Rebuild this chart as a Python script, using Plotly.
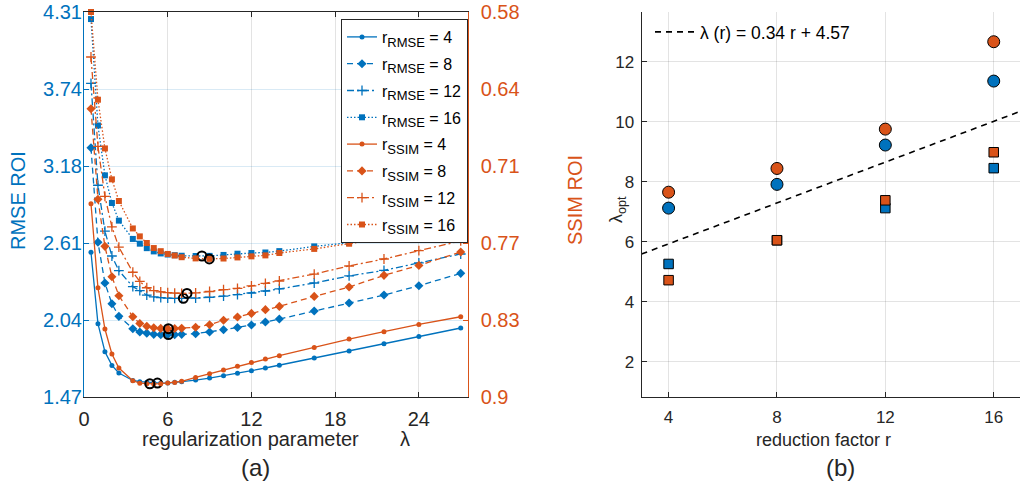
import plotly.graph_objects as go

# ---------------- data: panel (a) ----------------
lam = [0.5, 1, 1.5, 2, 2.5, 3.5, 4, 4.5, 5, 5.5, 6, 6.5, 7, 8, 9, 10, 11, 12, 13, 14, 16.5, 19, 21.5, 24, 27]

rmse_r4 = [2.538, 2.011, 1.804, 1.703, 1.647, 1.592, 1.583, 1.578, 1.575, 1.573, 1.573, 1.578, 1.583,
           1.595, 1.610, 1.627, 1.646, 1.664, 1.684, 1.705, 1.758, 1.809, 1.863, 1.917, 1.979]
rmse_r8 = [3.309, 2.612, 2.311, 2.158, 2.065, 1.974, 1.950, 1.941, 1.932, 1.930, 1.930, 1.930, 1.932,
           1.937, 1.950, 1.966, 1.983, 2.001, 2.023, 2.045, 2.104, 2.163, 2.222, 2.291, 2.382]
rmse_r12 = [3.783, 3.032, 2.693, 2.510, 2.402, 2.284, 2.254, 2.221, 2.208, 2.203, 2.199, 2.197, 2.197,
            2.200, 2.206, 2.214, 2.225, 2.237, 2.252, 2.267, 2.311, 2.363, 2.404, 2.459, 2.525]
rmse_r16 = [4.258, 3.473, 3.105, 2.901, 2.771, 2.636, 2.601, 2.568, 2.544, 2.529, 2.521, 2.516, 2.512,
            2.510, 2.511, 2.518, 2.527, 2.532, 2.536, 2.546, 2.581, 2.608, 2.647, 2.684, 2.728]

ssim_r4 = [0.7393, 0.8092, 0.8435, 0.8642, 0.8759, 0.8865, 0.8885, 0.8889, 0.8891, 0.8889, 0.8884, 0.8879, 0.8870,
           0.8837, 0.8806, 0.8775, 0.8744, 0.8713, 0.8684, 0.8657, 0.8588, 0.8518, 0.8457, 0.8397, 0.8333]
ssim_r8 = [0.6604, 0.7356, 0.7748, 0.8000, 0.8158, 0.8333, 0.8389, 0.8412, 0.8424, 0.8430, 0.8432, 0.8431, 0.8428,
           0.8420, 0.8399, 0.8362, 0.8335, 0.8305, 0.8274, 0.8247, 0.8164, 0.8086, 0.7989, 0.7906, 0.7795]
ssim_r12 = [0.6174, 0.6917, 0.7333, 0.7586, 0.7755, 0.7963, 0.8039, 0.8092, 0.8116, 0.8127, 0.8133, 0.8136, 0.8139,
            0.8135, 0.8123, 0.8108, 0.8097, 0.8077, 0.8056, 0.8036, 0.7978, 0.7911, 0.7853, 0.7784, 0.7703]
ssim_r16 = [0.5800, 0.6529, 0.6934, 0.7191, 0.7371, 0.7599, 0.7665, 0.7720, 0.7762, 0.7788, 0.7811, 0.7824, 0.7838,
            0.7848, 0.7852, 0.7849, 0.7840, 0.7831, 0.7823, 0.7803, 0.7769, 0.7726, 0.7684, 0.7626, 0.7570]

# optimal lambdas (black circles in (a), squares in (b))
lam_opt_rmse = [5.26, 6.05, 7.12, 8.45]
rmse_at_opt = [1.573, 1.931, 2.198, 2.510]
lam_opt_ssim = [4.72, 6.05, 7.38, 8.98]
ssim_at_opt = [0.8890, 0.8432, 0.8139, 0.7852]

rmse_ticks = [1.47, 2.038, 2.606, 3.174, 3.742, 4.31]
rmse_ticktext = ["1.47", "2.04", "2.61", "3.18", "3.74", "4.31"]
ssim_ticks = [0.9, 0.836, 0.772, 0.708, 0.644, 0.58]
ssim_ticktext = ["0.9", "0.83", "0.77", "0.71", "0.64", "0.58"]
lam_ticks = [0, 6, 12, 18, 24]

# ---------------- data: panel (b) ----------------
r_vals = [4, 8, 12, 16]
lam_circ_rmse = [7.12, 7.91, 9.22, 11.35]
lam_circ_ssim = [7.65, 8.44, 9.75, 12.66]
fit_slope = 0.34
fit_intercept = 4.57
fit_r = [3, 18]
r_ticks = [4, 8, 12, 16]
lopt_ticks = [2, 4, 6, 8, 10, 12]

# ---------------- styling ----------------
BLUE = "#0072BD"
ORANGE = "#D95319"
DARK = "#262626"
FONT = "Liberation Sans, Arial, sans-serif"

W, H = 1020, 493
ML, MR, MT, MB = 84, 0, 12, 96
PW, PH = W - ML - MR, H - MT - MB


def px(p):
    return (p - ML) / PW


def py(p):
    return 1 - (p - MT) / PH


fig = go.Figure()

dash_styles = {
    4: None,
    8: "6px,4px",
    12: "7px,3px,2px,3px",
    16: "1.5px,2px",
}
markers = {
    4: dict(symbol="circle", size=5),
    8: dict(symbol="diamond", size=7),
    12: dict(symbol="cross-thin", size=7),
    16: dict(symbol="square", size=6),
}


def add_series(x, y, r, color, metric, yaxis):
    m = dict(markers[r])
    m["color"] = color
    if m["symbol"] == "cross-thin":
        m["line"] = dict(width=1.3, color=color)
    else:
        m["line"] = dict(width=0)
    line = dict(color=color, width=1.3)
    if dash_styles[r]:
        line["dash"] = dash_styles[r]
    name = "r<sub><span style='font-size:13px'>%s</span></sub> = %d" % (metric, r)
    fig.add_trace(go.Scatter(x=x, y=y, mode="lines+markers", line=line, marker=m,
                             name=name, xaxis="x", yaxis=yaxis, cliponaxis=False,
                             legend="legend", legendgroup=metric + str(r)))


for r, ys in zip([4, 8, 12, 16], [rmse_r4, rmse_r8, rmse_r12, rmse_r16]):
    add_series(lam, ys, r, BLUE, "RMSE", "y")
fig.add_trace(go.Scatter(x=lam_opt_rmse, y=rmse_at_opt, mode="markers",
                         marker=dict(symbol="circle-open", size=9, color="black", line=dict(width=2)),
                         xaxis="x", yaxis="y", showlegend=False))
for r, ys in zip([4, 8, 12, 16], [ssim_r4, ssim_r8, ssim_r12, ssim_r16]):
    add_series(lam, ys, r, ORANGE, "SSIM", "y2")
fig.add_trace(go.Scatter(x=lam_opt_ssim, y=ssim_at_opt, mode="markers",
                         marker=dict(symbol="circle-open", size=9, color="black", line=dict(width=2)),
                         xaxis="x", yaxis="y2", showlegend=False))

# ---------------- panel (b) ----------------
fit_lam = [fit_slope * r + fit_intercept for r in fit_r]
fig.add_trace(go.Scatter(x=fit_r, y=fit_lam, mode="lines",
                         line=dict(color="black", width=1.6, dash="6px,5px"),
                         name="λ (r) = 0.34 r + 4.57", xaxis="x2", yaxis="y3", legend="legend2"))
pt_line = dict(color="black", width=1)
fig.add_trace(go.Scatter(x=r_vals, y=lam_circ_rmse, mode="markers",
                         marker=dict(symbol="circle", size=12, color=BLUE, line=pt_line),
                         xaxis="x2", yaxis="y3", showlegend=False))
fig.add_trace(go.Scatter(x=r_vals, y=lam_circ_ssim, mode="markers",
                         marker=dict(symbol="circle", size=12, color=ORANGE, line=pt_line),
                         xaxis="x2", yaxis="y3", showlegend=False))
fig.add_trace(go.Scatter(x=r_vals, y=lam_opt_rmse, mode="markers",
                         marker=dict(symbol="square", size=9.5, color=BLUE, line=pt_line),
                         xaxis="x2", yaxis="y3", showlegend=False))
fig.add_trace(go.Scatter(x=r_vals, y=lam_opt_ssim, mode="markers",
                         marker=dict(symbol="square", size=9.5, color=ORANGE, line=pt_line),
                         xaxis="x2", yaxis="y3", showlegend=False))

GRID = "rgba(38,38,38,0.13)"
GRID_BLUE = "rgba(0,114,189,0.15)"

ax_common = dict(ticks="inside", ticklen=5, showgrid=True, zeroline=False, showline=True,
                 linewidth=1)

fig.update_layout(
    width=W, height=H,
    margin=dict(l=ML, r=MR, t=MT, b=MB),
    paper_bgcolor="white", plot_bgcolor="white",
    font=dict(family=FONT, color=DARK),
    xaxis=dict(domain=[0, px(467.7)], range=[0, 27.5], tickvals=lam_ticks,
               tickfont=dict(size=20, color=DARK), gridcolor=GRID, linecolor=DARK,
               tickcolor=DARK, mirror="ticks", anchor="y", ticklabelstandoff=4, **ax_common),
    yaxis=dict(domain=[0, 1], range=[1.47, 4.31], tickvals=rmse_ticks, ticktext=rmse_ticktext,
               tickfont=dict(size=20, color=BLUE), gridcolor=GRID_BLUE, linecolor=BLUE,
               tickcolor=BLUE, anchor="x", ticklabelstandoff=-3, **ax_common),
    yaxis2=dict(domain=[0, 1], range=[0.9, 0.58], tickvals=ssim_ticks, ticktext=ssim_ticktext,
                tickfont=dict(size=20, color=ORANGE), linecolor=ORANGE, tickcolor=ORANGE,
                overlaying="y", side="right", anchor="x", ticklabelstandoff=8,
                ticks="inside", ticklen=5, showgrid=False, zeroline=False, showline=True, linewidth=1),
    xaxis2=dict(domain=[px(641.5), 1], range=[3, 16.97], tickvals=r_ticks,
                tickfont=dict(size=17, color=DARK), gridcolor=GRID, linecolor=DARK,
                tickcolor=DARK, anchor="y3", ticklabelstandoff=5, **ax_common),
    yaxis3=dict(domain=[0, 1], range=[0.83, 13.65], tickvals=lopt_ticks,
                tickfont=dict(size=17, color=DARK), gridcolor=GRID, linecolor=DARK,
                tickcolor=DARK, anchor="x2", ticklabelstandoff=3, **ax_common),
    legend=dict(x=px(341), y=py(19), xanchor="left", yanchor="top",
                bgcolor="white", bordercolor=DARK, borderwidth=1,
                font=dict(size=16, color="black"), tracegroupgap=3, itemwidth=30),
    legend2=dict(x=px(650), y=py(14), xanchor="left", yanchor="top",
                 bgcolor="rgba(255,255,255,0)", borderwidth=0,
                 font=dict(size=17.5, color="black"), itemwidth=40),
    showlegend=True,
)

ann = []


def add_text(text, x, y, size, color=DARK, angle=0):
    ann.append(dict(text=text, x=px(x), y=py(y), xref="paper", yref="paper",
                    xanchor="center", yanchor="middle", showarrow=False, textangle=angle,
                    font=dict(family=FONT, size=size, color=color)))


add_text("RMSE ROI", 18, 201, 20, BLUE, -90)
add_text("SSIM ROI", 575, 200, 20, ORANGE, -90)
add_text("regularization parameter", 250, 439, 20)
add_text("λ", 405, 439, 20)
add_text("(a)", 255, 467, 24)
add_text("reduction factor r", 823, 440, 18)
add_text("(b)", 840, 467, 24)
add_text("λ<sub>opt</sub>", 618, 210, 18, DARK, -90)
fig.update_layout(annotations=ann)

fig.write_html("out.html", config={"displayModeBar": False},
               post_script="document.body.style.margin='0';document.body.style.overflow='hidden';")
